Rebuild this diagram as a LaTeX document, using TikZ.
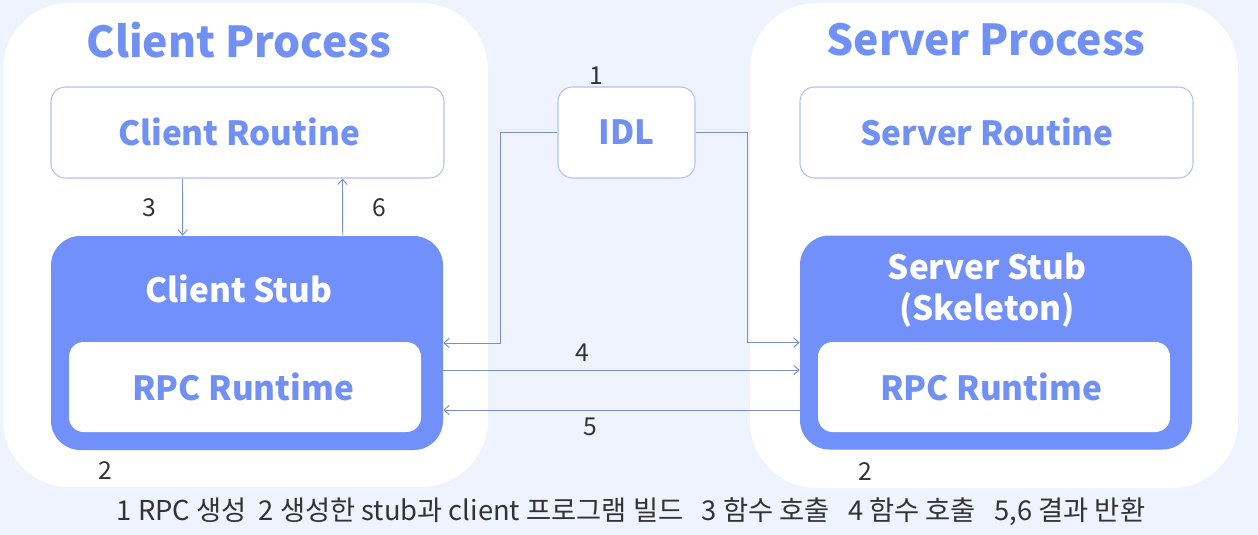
\documentclass[tikz,border=0pt]{standalone}
\usepackage{fontspec}
\setmainfont{Noto Sans CJK KR}
\usetikzlibrary{arrows.meta,calc}
\definecolor{bgc}{HTML}{EEF3FD}
\definecolor{stubc}{HTML}{7190F9}
\definecolor{titc}{HTML}{7190F4}
\definecolor{bordc}{HTML}{B3C1F2}
\definecolor{linec}{HTML}{7A8FCB}
\definecolor{numc}{HTML}{333333}
\tikzset{
  panel/.style={fill=white, draw=none, rounded corners=50pt},
  routine/.style={draw=bordc, line width=0.8pt, fill=white, rounded corners=11pt, minimum width=294.75pt, minimum height=68.25pt, inner sep=0pt},
  stubbox/.style={fill=stubc, draw=none, rounded corners=22pt, minimum width=294pt, minimum height=160.5pt, inner sep=0pt},
  rtbox/.style={fill=white, draw=none, rounded corners=11pt, minimum width=264pt, minimum height=67.5pt, inner sep=0pt},
  ttl/.style={text=titc, font=\fontsize{32pt}{35pt}\bfseries},
  lbl/.style={text=titc, font=\fontsize{25pt}{28pt}\bfseries},
  wlbl/.style={text=white, font=\fontsize{25pt}{31pt}\bfseries, align=center},
  num/.style={text=numc, font=\fontsize{18.5pt}{20pt}\selectfont},
  arr/.style={draw=linec, line width=0.7pt, -{Straight Barb[length=4pt,width=7pt]}},
  ln/.style={draw=linec, line width=0.7pt}
}
\begin{document}
\begin{tikzpicture}[x=0.75pt,y=-0.75pt]
\fill[bgc] (0,0) rectangle (1258,535);
\useasboundingbox (0,0) rectangle (1258,535);
% panels
\path[panel] (3,3) rectangle (488,487);
\path[panel] (750,3) rectangle (1238,488);
\node[ttl] (ctitle) at (239,40) {Client Process};
\node[ttl] (stitle) at (986,40) {Server Process};
% boxes
\node[routine] (cr) at (247.5,132.5) {};
\node[lbl] (crl) at (239,132) {Client Routine};
\node[routine, minimum width=102.75pt] (idl) at (626.5,132.5) {};
\node[lbl] (idll) at (626.5,132) {IDL};
\node[routine] (sr) at (996.5,132.5) {};
\node[lbl] (srl) at (987,132) {Server Routine};
\node[stubbox] (cs) at (247,343) {};
\node[wlbl] (csl) at (239,289) {Client Stub};
\node[rtbox] (csr) at (245,387) {};
\node[lbl] (csrl) at (243,387) {RPC Runtime};
\node[stubbox] (ss) at (996,342.5) {};
\node[wlbl] (ssl) at (987,290) {Server Stub\\(Skeleton)};
\node[rtbox] (ssr) at (994,387) {};
\node[lbl] (ssrl) at (991,387) {RPC Runtime};
% connectors
\draw[arr] ($(cr.south west)+(132,0)$) -- ($(cs.north west)+(132,0)$);
\draw[arr] ($(cs.north west)+(292,0)$) -- ($(cr.south west)+(292,0)$);
\draw[arr] (idl.west) -- ++(-57,0) |- (cs.east);
\draw[arr] (idl.east) -- ++(52,0) |- (ss.west);
\draw[arr] ($(cs.east)+(0,27)$) -- ($(ss.west)+(0,27.5)$);
\draw[arr] ($(ss.west)+(0,67.5)$) -- ($(cs.east)+(0,67)$);
% numbers
\node[num] (n1) at (596,76) {1};
\node[num] (n3) at (149,208) {3};
\node[num] (n6) at (379,208) {6};
\node[num] (n4) at (582,353) {4};
\node[num] (n5) at (590,427) {5};
\node[num] (n2a) at (105,471) {2};
\node[num] (n2b) at (865,472) {2};
\node[text=numc, font=\fontsize{20.5pt}{22pt}\selectfont] (cap) at (631,512) {1 RPC 생성 \ 2 생성한 stub과 client 프로그램 빌드 \ \ 3 함수 호출 \ \ 4 함수 호출 \ \ 5,6 결과 반환};
\end{tikzpicture}
\end{document}
